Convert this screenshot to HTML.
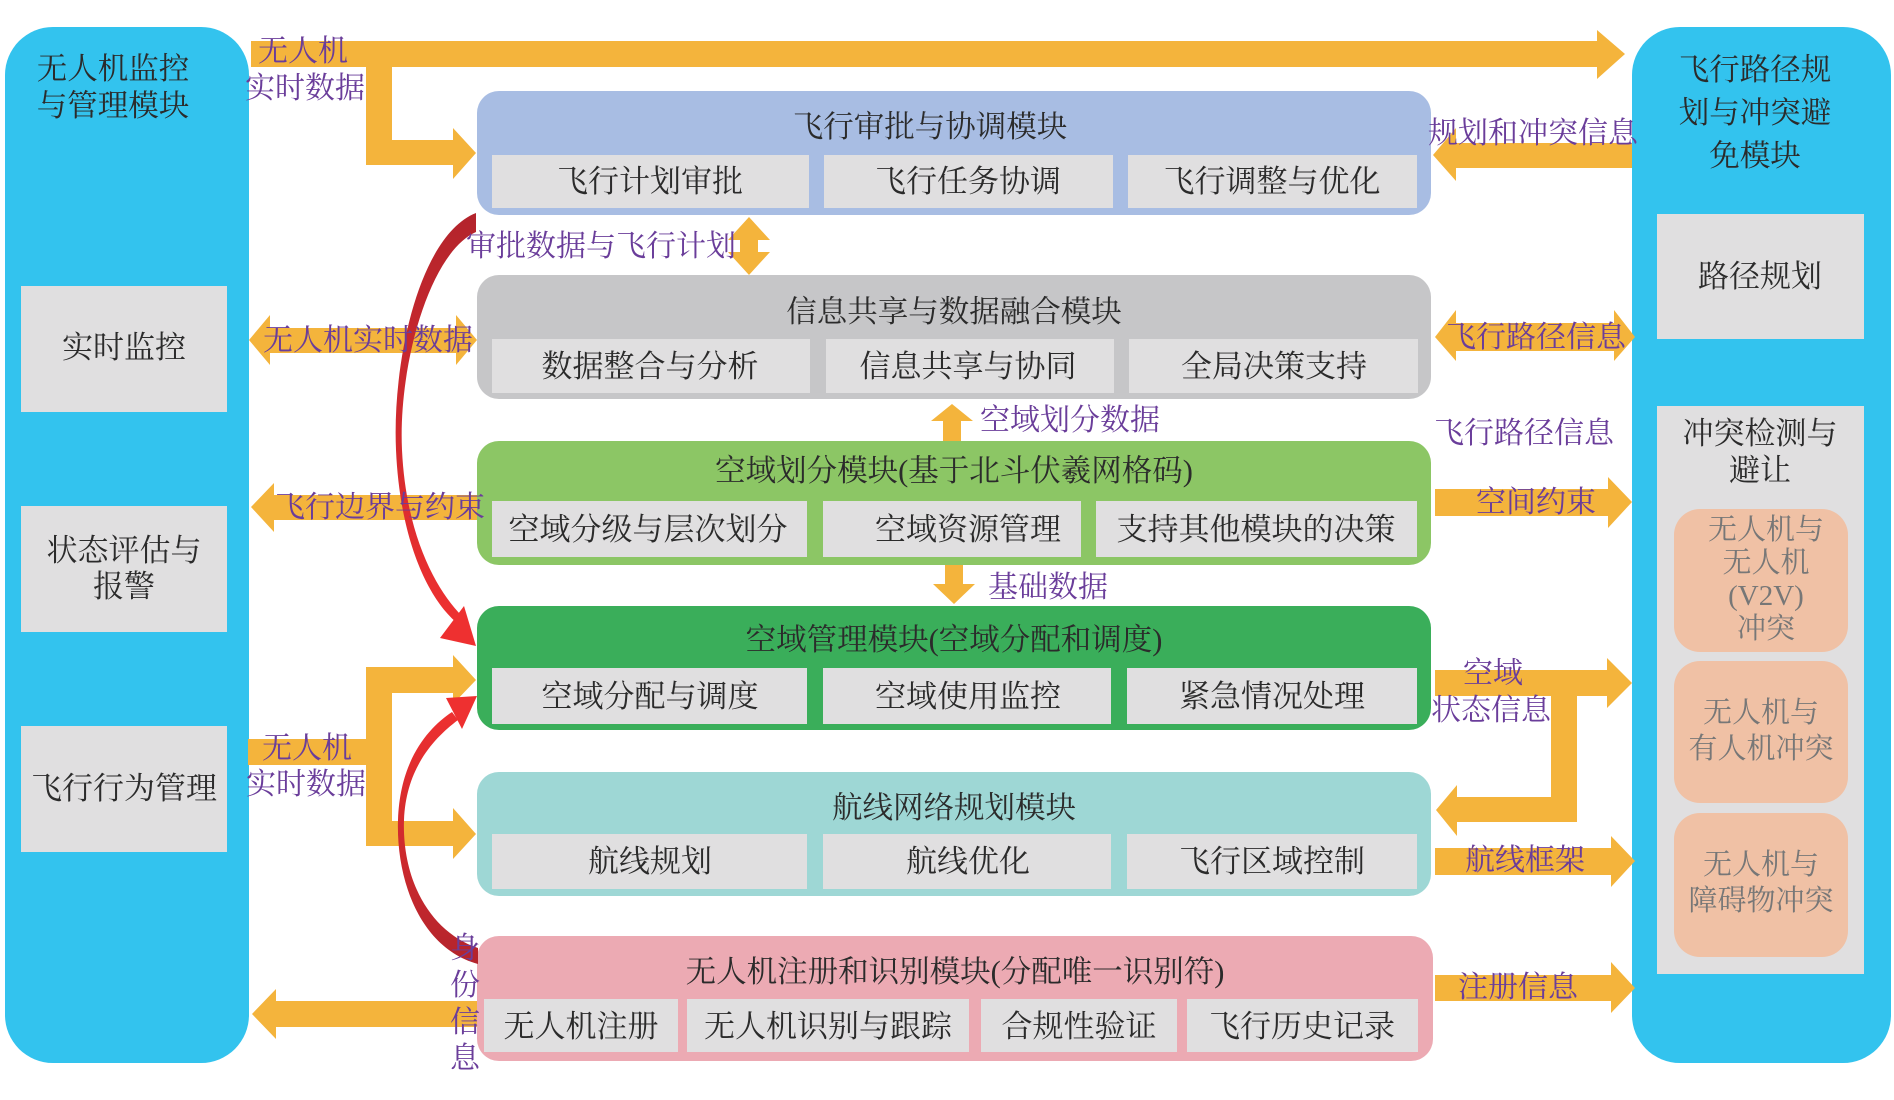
<!DOCTYPE html>
<html><head><meta charset="utf-8"><style>
html,body{margin:0;padding:0;background:#fff;}
svg{display:block;}
text{font-family:"Liberation Serif","Noto Serif CJK SC",serif;}
.t{fill:#2b2b2b;font-size:30.5px;text-anchor:middle;}
.s{fill:#2b2b2b;font-size:31px;text-anchor:middle;}
.p{fill:#6a3d9a;font-size:30px;}
.g{fill:#777;font-size:29px;text-anchor:middle;}
</style></head><body>
<svg width="1894" height="1100" viewBox="0 0 1894 1100" xmlns="http://www.w3.org/2000/svg">
<defs>
<linearGradient id="r1" x1="0" y1="0" x2="0" y2="1"><stop offset="0" stop-color="#b3242c"/><stop offset="1" stop-color="#ee3030"/></linearGradient>
<linearGradient id="r2" x1="0" y1="1" x2="0" y2="0"><stop offset="0" stop-color="#b3242c"/><stop offset="1" stop-color="#ee3030"/></linearGradient>
</defs>

<rect x="5" y="27" width="244" height="1036" rx="48" fill="#33c3ee"/>
<text class="t" x="113" y="79" font-size="31">无人机监控</text>
<text class="t" x="113" y="116" font-size="31">与管理模块</text>
<rect x="21" y="286" width="206" height="126" fill="#e0dfe0"/>
<text class="s" x="124" y="358">实时监控</text>
<rect x="21" y="506" width="206" height="126" fill="#e0dfe0"/>
<text class="s" x="124" y="561">状态评估与</text>
<text class="s" x="124" y="597">报警</text>
<rect x="21" y="726" width="206" height="126" fill="#e0dfe0"/>
<text class="s" x="124" y="799">飞行行为管理</text>

<rect x="1632" y="27" width="259" height="1036" rx="48" fill="#33c3ee"/>
<text class="t" x="1755" y="80" font-size="31">飞行路径规</text>
<text class="t" x="1755" y="123" font-size="31">划与冲突避</text>
<text class="t" x="1755" y="166" font-size="31">免模块</text>
<rect x="1657" y="214" width="207" height="125" fill="#e0dfe0"/>
<text class="s" x="1760" y="287">路径规划</text>
<rect x="1657" y="406" width="207" height="568" fill="#e0dfe0"/>
<text class="s" x="1760" y="444">冲突检测与</text>
<text class="s" x="1760" y="481">避让</text>
<rect x="1674" y="509" width="174" height="143" rx="26" fill="#f0c1a5"/>
<text class="g" x="1766" y="539">无人机与</text>
<text class="g" x="1766" y="572">无人机</text>
<text class="g" x="1766" y="605">(V2V)</text>
<text class="g" x="1766" y="638">冲突</text>
<rect x="1674" y="661" width="174" height="142" rx="26" fill="#f0c1a5"/>
<text class="g" x="1761" y="722">无人机与</text>
<text class="g" x="1761" y="758">有人机冲突</text>
<rect x="1674" y="813" width="174" height="144" rx="26" fill="#f0c1a5"/>
<text class="g" x="1761" y="874">无人机与</text>
<text class="g" x="1761" y="910">障碍物冲突</text>

<rect x="477" y="91" width="954" height="124" rx="22" fill="#a8bde3"/>
<text class="t" x="930" y="137">飞行审批与协调模块</text>
<rect x="492" y="155" width="317" height="53" fill="#e0dfe0"/><text class="s" x="650" y="192">飞行计划审批</text>
<rect x="824" y="155" width="289" height="53" fill="#e0dfe0"/><text class="s" x="968" y="192">飞行任务协调</text>
<rect x="1128" y="155" width="289" height="53" fill="#e0dfe0"/><text class="s" x="1272" y="192">飞行调整与优化</text>

<rect x="477" y="275" width="954" height="124" rx="22" fill="#c6c6c8"/>
<text class="t" x="954" y="322">信息共享与数据融合模块</text>
<rect x="492" y="339" width="318" height="54" fill="#e0dfe0"/><text class="s" x="650" y="377">数据整合与分析</text>
<rect x="826" y="339" width="288" height="54" fill="#e0dfe0"/><text class="s" x="968" y="377">信息共享与协同</text>
<rect x="1129" y="339" width="289" height="54" fill="#e0dfe0"/><text class="s" x="1274" y="377">全局决策支持</text>

<rect x="477" y="441" width="954" height="124" rx="22" fill="#8cc665"/>
<text class="t" x="954" y="481">空域划分模块(基于北斗伏羲网格码)</text>
<rect x="492" y="501" width="315" height="56" fill="#e0dfe0"/><text class="s" x="648" y="540">空域分级与层次划分</text>
<rect x="823" y="501" width="258" height="56" fill="#e0dfe0"/><text class="s" x="968" y="540">空域资源管理</text>
<rect x="1096" y="501" width="321" height="56" fill="#e0dfe0"/><text class="s" x="1256" y="540">支持其他模块的决策</text>

<rect x="477" y="606" width="954" height="124" rx="22" fill="#3aae5a"/>
<text class="t" x="954" y="650">空域管理模块(空域分配和调度)</text>
<rect x="492" y="668" width="315" height="56" fill="#e0dfe0"/><text class="s" x="650" y="707">空域分配与调度</text>
<rect x="823" y="668" width="288" height="56" fill="#e0dfe0"/><text class="s" x="968" y="707">空域使用监控</text>
<rect x="1127" y="668" width="290" height="56" fill="#e0dfe0"/><text class="s" x="1272" y="707">紧急情况处理</text>

<rect x="477" y="772" width="954" height="124" rx="22" fill="#9ed7d5"/>
<text class="t" x="954" y="818">航线网络规划模块</text>
<rect x="492" y="834" width="315" height="55" fill="#e0dfe0"/><text class="s" x="650" y="872">航线规划</text>
<rect x="823" y="834" width="288" height="55" fill="#e0dfe0"/><text class="s" x="968" y="872">航线优化</text>
<rect x="1127" y="834" width="290" height="55" fill="#e0dfe0"/><text class="s" x="1272" y="872">飞行区域控制</text>

<rect x="477" y="936" width="956" height="125" rx="22" fill="#ecaab3"/>
<text class="t" x="955" y="982">无人机注册和识别模块(分配唯一识别符)</text>
<rect x="484" y="999" width="194" height="53" fill="#e0dfe0"/><text class="s" x="581" y="1037">无人机注册</text>
<rect x="687" y="999" width="282" height="53" fill="#e0dfe0"/><text class="s" x="828" y="1037">无人机识别与跟踪</text>
<rect x="981" y="999" width="196" height="53" fill="#e0dfe0"/><text class="s" x="1079" y="1037">合规性验证</text>
<rect x="1187" y="999" width="231" height="53" fill="#e0dfe0"/><text class="s" x="1302" y="1037">飞行历史记录</text>

<g fill="#f4b43c">
<polygon points="251,41 1597,41 1597,30 1625,54 1597,79 1597,67 251,67"/>
<polygon points="366,67 392,67 392,140 453,140 453,128 476,153 453,179 453,165 366,165"/>
<polygon points="749,217 770,240 758,240 758,252 770,252 749,275 728,252 740,252 740,240 728,240"/>
<polygon points="249,340 270,315 270,328 456,328 456,315 477,340 456,365 456,353 270,353 270,365"/>
<polygon points="251,507 274,483 274,495 477,495 477,520 274,520 274,532"/>
<polygon points="952,404 973,421 961,421 961,441 943,441 943,421 931,421"/>
<polygon points="945,565 963,565 963,584 975,584 954,604 933,584 945,584"/>
<polygon points="248,739 366,739 366,667 453,667 453,655 476,680 453,704 453,693 392,693 392,821 453,821 453,808 476,834 453,859 453,846 366,846 366,765 248,765"/>
<polygon points="252,1014 276,989 276,1001 477,1001 477,1027 276,1027 276,1039"/>
<polygon points="1433,155 1456,128 1456,143 1632,143 1632,168 1456,168 1456,181"/>
<polygon points="1435,337 1456,310 1456,323 1614,323 1614,310 1635,337 1614,361 1614,351 1456,351 1456,361"/>
<polygon points="1435,489 1608,489 1608,477 1632,502 1608,528 1608,516 1435,516"/>
<polygon points="1435,670 1607,670 1607,658 1632,683 1607,708 1607,696 1577,696 1577,822 1457,822 1457,836 1436,810 1457,785 1457,797 1551,797 1551,696 1435,696"/>
<polygon points="1435,848 1611,848 1611,836 1635,861 1611,887 1611,875 1435,875"/>
<polygon points="1435,975 1611,975 1611,962 1635,988 1611,1013 1611,1001 1435,1001"/>
</g>

<path d="M476,213 C420,235 392,360 396,450 C400,540 428,598 456,622 L462,616 C436,590 406,535 402,450 C398,365 430,252 476,232 Z" fill="url(#r1)"/>
<polygon points="476,646 440,638 464,606" fill="#ee3030"/>
<path d="M478,964 C420,948 396,880 398,820 C400,760 428,728 452,712 L458,720 C434,738 406,768 404,820 C402,880 430,932 478,948 Z" fill="url(#r2)"/>
<polygon points="477,696 462,729 446,698" fill="#ee3030"/>

<g>
<text class="p" x="258" y="61">无人机</text>
<text class="p" x="245" y="98">实时数据</text>
<text class="p" x="466" y="256">审批数据与飞行计划</text>
<text class="p" x="263" y="350">无人机实时数据</text>
<text class="p" x="275" y="517">飞行边界与约束</text>
<text class="p" x="980" y="430">空域划分数据</text>
<text class="p" x="988" y="597">基础数据</text>
<text class="p" x="262" y="758">无人机</text>
<text class="p" x="246" y="794">实时数据</text>
<text class="p" x="450" y="958">身</text>
<text class="p" x="450" y="995">份</text>
<text class="p" x="450" y="1032">信</text>
<text class="p" x="450" y="1068">息</text>
<text class="p" x="1428" y="143">规划和冲突信息</text>
<text class="p" x="1446" y="347">飞行路径信息</text>
<text class="p" x="1434" y="443">飞行路径信息</text>
<text class="p" x="1476" y="512">空间约束</text>
<text class="p" x="1463" y="683">空域</text>
<text class="p" x="1431" y="720">状态信息</text>
<text class="p" x="1465" y="870">航线框架</text>
<text class="p" x="1458" y="997">注册信息</text>
</g>
</svg>
</body></html>
